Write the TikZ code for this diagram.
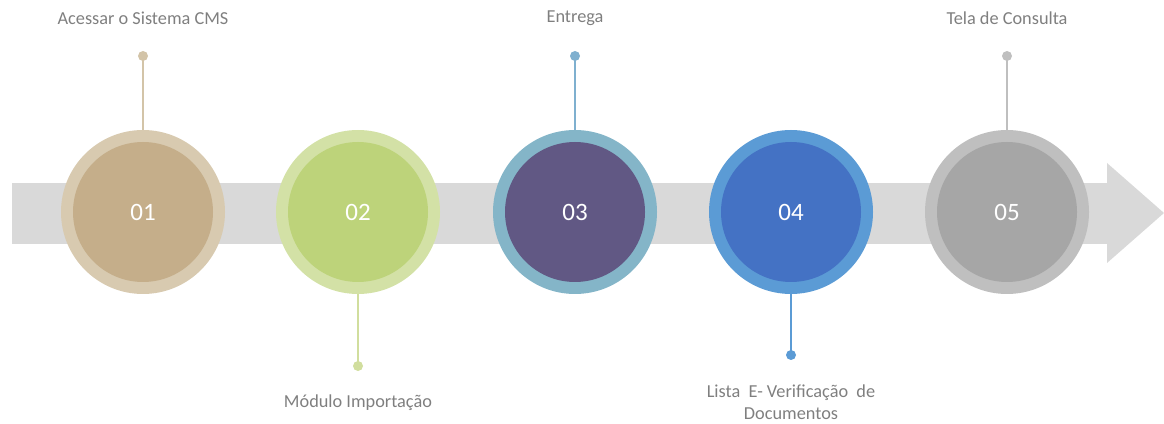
\documentclass[tikz,border=0pt]{standalone}
\usepackage{fontspec}
\setmainfont{Carlito}
\definecolor{shaft}{HTML}{D9D9D9}
\definecolor{txtgray}{HTML}{7F7F7F}
\definecolor{oA}{HTML}{D8CAB0}\definecolor{iA}{HTML}{C5AE8A}\definecolor{lA}{HTML}{D3C4A8}
\definecolor{oB}{HTML}{D3E1A6}\definecolor{iB}{HTML}{BDD37A}\definecolor{lB}{HTML}{D1DE9E}
\definecolor{oC}{HTML}{84B5C8}\definecolor{iC}{HTML}{615884}\definecolor{lC}{HTML}{7FB0CF}
\definecolor{oD}{HTML}{5B9BD5}\definecolor{iD}{HTML}{4472C4}\definecolor{lD}{HTML}{5B9BD5}
\definecolor{oE}{HTML}{BFBFBF}\definecolor{iE}{HTML}{A6A6A6}\definecolor{lE}{HTML}{BFBFBF}
\tikzset{
  outerring/.style={circle, minimum size=164pt, inner sep=0pt},
  innerdisc/.style={circle, minimum size=140pt, inner sep=0pt, text=white, font=\fontsize{25}{28}\selectfont},
  dotmark/.style={circle, minimum size=10pt, inner sep=0pt},
  stem/.style={line width=1.5pt},
  lbl/.style={text=txtgray, font=\fontsize{18.3}{22}\selectfont, align=center, inner sep=0pt}
}
\begin{document}
\begin{tikzpicture}[x=1pt,y=1pt]
\useasboundingbox (0,0) rectangle (1164,423);
\fill[shaft] (12,179) rectangle (1108,240);
\fill[shaft] (1107,260) -- (1164,210) -- (1107,160) -- cycle;
% dots
\node[dotmark, fill=lA] (d1) at (143,367) {};
\node[dotmark, fill=lB] (d2) at (358,57) {};
\node[dotmark, fill=lC] (d3) at (575,367) {};
\node[dotmark, fill=lD] (d4) at (791,68) {};
\node[dotmark, fill=lE] (d5) at (1007,367) {};
% rings
\node[outerring, fill=oA] (o1) at (143,211) {};
\node[outerring, fill=oB] (o2) at (358,211) {};
\node[outerring, fill=oC] (o3) at (575,211) {};
\node[outerring, fill=oD] (o4) at (791,211) {};
\node[outerring, fill=oE] (o5) at (1007,211) {};
\node[innerdisc, fill=iA] (c1) at (o1) {01};
\node[innerdisc, fill=iB] (c2) at (o2) {02};
\node[innerdisc, fill=iC] (c3) at (o3) {03};
\node[innerdisc, fill=iD] (c4) at (o4) {04};
\node[innerdisc, fill=iE] (c5) at (o5) {05};
% stems
\draw[stem, lA] (d1.center) -- (o1.north);
\draw[stem, lB] (d2.center) -- (o2.south);
\draw[stem, lC] (d3.center) -- (o3.north);
\draw[stem, lD] (d4.center) -- (o4.south);
\draw[stem, lE] (d5.center) -- (o5.north);
% labels
\node[lbl] (t1) at (143,405) {Acessar o Sistema CMS};
\node[lbl] (t2) at (358,20) {Módulo Importação};
\node[lbl] (t3) at (575,405) {Entrega};
\node[lbl] (t4) at (791,21) {Lista~ E- Verificação~ de\\Documentos};
\node[lbl] (t5) at (1007,405) {Tela de Consulta};
\end{tikzpicture}
\end{document}
